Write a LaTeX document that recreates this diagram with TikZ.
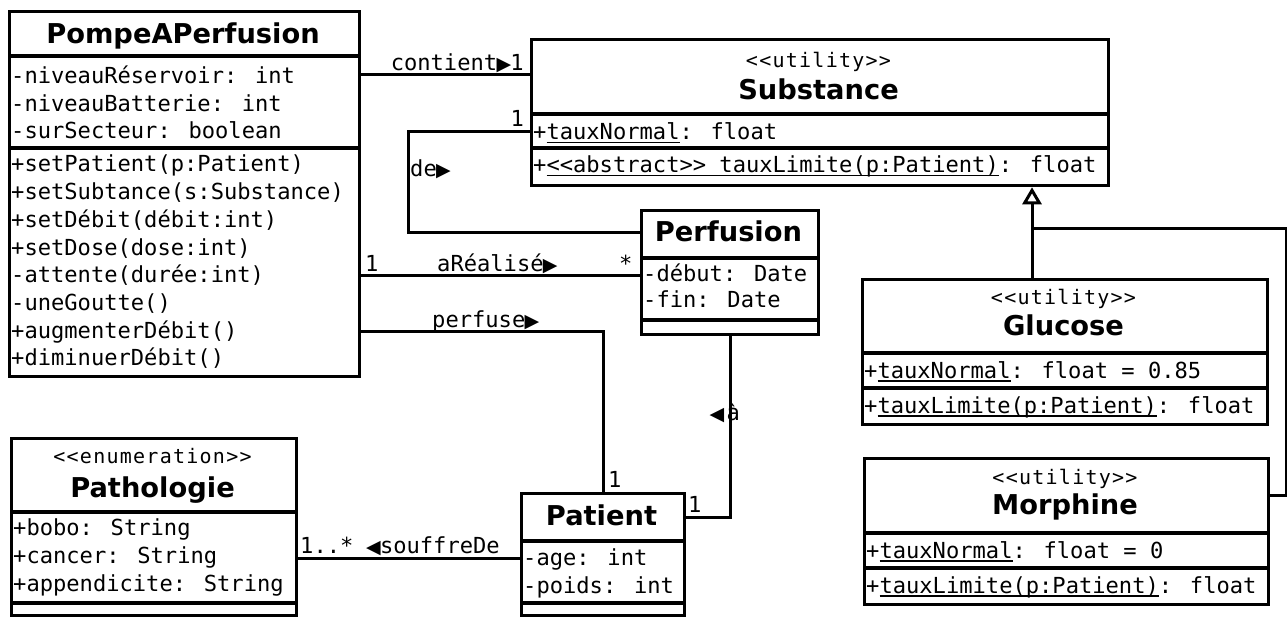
\documentclass[tikz,border=0pt]{standalone}
\usepackage{fontspec}
\setmainfont{DejaVu Sans}
\newfontfamily\monof[Ligatures=TeXOff]{DejaVu Sans Mono}
\newfontfamily\symf{DejaVu Sans}
\usetikzlibrary{arrows.meta}
\newsavebox\ulbox
\newcommand\ulx[1]{\sbox\ulbox{#1}\rlap{\rule[-3.5pt]{\wd\ulbox}{1.4pt}}\usebox\ulbox}
% stereotype: every character in a mono cell of the body width
\def\spc#1{\spcloop#1\relax}
\def\spcloop#1{\ifx\relax#1\else\makebox[13.3pt]{#1}\expandafter\spcloop\fi}
\newcommand\rtri{\makebox[13.3pt]{\symf\fontsize{19}{19}\selectfont ▶}}
\newcommand\ltri{\makebox[13.3pt]{\symf\fontsize{19}{19}\selectfont ◀}}
\tikzset{
  cls/.style={draw, line width=3.3pt, inner sep=0pt, anchor=north west},
  divl/.style={line width=3.3pt},
  conn/.style={line width=3pt},
  mem/.style={inner sep=0pt, anchor=base west, font=\monof\fontsize{22.1}{26}\selectfont},
  ttl/.style={inner sep=0pt, anchor=base, font=\bfseries\fontsize{27.3}{30}\selectfont},
  ster/.style={inner sep=0pt, anchor=base, font=\monof\fontsize{20}{20}\selectfont},
}
\begin{document}
\begin{tikzpicture}[x=1pt,y=-1pt]
\useasboundingbox (0,0) rectangle (1287,617);
% ---------- PompeAPerfusion
\node[cls, minimum width=350pt, minimum height=365pt] (pompe) at (8,10) {};
\draw[divl] (pompe.west |- 0,56) -- (pompe.east |- 0,56);
\draw[divl] (pompe.west |- 0,148) -- (pompe.east |- 0,148);
\node[ttl] (pompeT) at (183,44) {PompeAPerfusion};
\node[mem] (pa1) at (11,84) {-niveauRéservoir: int};
\node[mem] (pa2) at (11,111.5) {-niveauBatterie: int};
\node[mem] (pa3) at (11,139) {-surSecteur: boolean};
\node[mem] (pm1) at (11,172) {+setPatient(p:Patient)};
\node[mem] (pm2) at (11,199.7) {+setSubtance(s:Substance)};
\node[mem] (pm3) at (11,227.4) {+setDébit(débit:int)};
\node[mem] (pm4) at (11,255.1) {+setDose(dose:int)};
\node[mem] (pm5) at (11,282.8) {-attente(durée:int)};
\node[mem] (pm6) at (11,310.5) {-uneGoutte()};
\node[mem] (pm7) at (11,338.2) {+augmenterDébit()};
\node[mem] (pm8) at (11,365.9) {+diminuerDébit()};
% ---------- Substance
\node[cls, minimum width=577pt, minimum height=146pt] (subst) at (530,38) {};
\draw[divl] (subst.west |- 0,114) -- (subst.east |- 0,114);
\draw[divl] (subst.west |- 0,148) -- (subst.east |- 0,148);
\node[ster] (substS) at (818.5,67.5) {\spc{<<utility>>}};
\node[ttl] (substT) at (818.5,100) {Substance};
\node[mem] (sa1) at (533,140) {+\ulx{tauxNormal}: float};
\node[mem] (sm1) at (533,173) {+\ulx{<<abstract>> tauxLimite(p:Patient)}: float};
% ---------- Perfusion
\node[cls, minimum width=177pt, minimum height=124pt] (perf) at (640,209) {};
\draw[divl] (perf.west |- 0,258) -- (perf.east |- 0,258);
\draw[divl] (perf.west |- 0,320) -- (perf.east |- 0,320);
\node[ttl] (perfT) at (728.5,241.7) {Perfusion};
\node[mem] (fa1) at (643,282) {-début: Date};
\node[mem] (fa2) at (643,308) {-fin: Date};
% ---------- Patient
\node[cls, minimum width=163pt, minimum height=122pt] (patient) at (520,492) {};
\draw[divl] (patient.west |- 0,541) -- (patient.east |- 0,541);
\draw[divl] (patient.west |- 0,603) -- (patient.east |- 0,603);
\node[ttl] (patientT) at (601.5,525) {Patient};
\node[mem] (ta1) at (523,565) {-age: int};
\node[mem] (ta2) at (523,593) {-poids: int};
% ---------- Pathologie
\node[cls, minimum width=285pt, minimum height=177pt] (patho) at (10,437) {};
\draw[divl] (patho.west |- 0,512) -- (patho.east |- 0,512);
\draw[divl] (patho.west |- 0,603) -- (patho.east |- 0,603);
\node[ster] (pathoS) at (152.5,463) {\spc{<<enumeration>>}};
\node[ttl] (pathoT) at (152.5,497) {Pathologie};
\node[mem] (ha1) at (13,535) {+bobo: String};
\node[mem] (ha2) at (13,563) {+cancer: String};
\node[mem] (ha3) at (13,591) {+appendicite: String};
% ---------- Glucose
\node[cls, minimum width=405pt, minimum height=145pt] (glucose) at (861,278) {};
\draw[divl] (glucose.west |- 0,353) -- (glucose.east |- 0,353);
\draw[divl] (glucose.west |- 0,388) -- (glucose.east |- 0,388);
\node[ster] (glucoseS) at (1063.5,305) {\spc{<<utility>>}};
\node[ttl] (glucoseT) at (1063.5,335) {Glucose};
\node[mem] (ga1) at (864,378) {+\ulx{tauxNormal}: float = 0.85};
\node[mem] (gm1) at (864,413) {+\ulx{tauxLimite(p:Patient)}: float};
% ---------- Morphine
\node[cls, minimum width=404pt, minimum height=146pt] (morph) at (863,457) {};
\draw[divl] (morph.west |- 0,533) -- (morph.east |- 0,533);
\draw[divl] (morph.west |- 0,568) -- (morph.east |- 0,568);
\node[ster] (morphS) at (1065,484) {\spc{<<utility>>}};
\node[ttl] (morphT) at (1065,514) {Morphine};
\node[mem] (ma1) at (866,558) {+\ulx{tauxNormal}: float = 0};
\node[mem] (mm1) at (866,593) {+\ulx{tauxLimite(p:Patient)}: float};
% ---------- connectors
\coordinate (debend) at (408,233);
\coordinate (genx) at (1032,229);
\coordinate (genr) at (1286,229);
\draw[conn] (pompe.east |- 0,75) -- (subst.west |- 0,75);
\draw[conn] (subst.west |- 0,132) -| (debend) -- (perf.west |- debend);
\draw[conn] (pompe.east |- 0,276) -- (perf.west |- 0,276);
\draw[conn] (pompe.east |- 0,332) -| (patient.north);
\draw[conn] (perf.south) |- (patient.east |- 0,517);
\draw[conn] (patho.east |- 0,558) -- (patient.west |- 0,558);
\draw[conn, -{Triangle[open, length=17pt, width=19pt]}] (genx |- glucose.north) -- (genx |- subst.south);
\draw[conn] (morph.east |- 0,495) -| (genr) -- (genx);
% ---------- connector labels
\node[mem, anchor=base east] (lcont) at (524,71) {contient\rtri 1};
\node[mem, anchor=base east] (lde1) at (524,127) {1};
\node[mem] (lde) at (410,177) {de\rtri};
\node[mem] (lar1) at (365,272) {1};
\node[mem] (lar) at (437,272) {aRéalisé\rtri};
\node[mem] (lar2) at (619,272) {*};
\node[mem] (lpe) at (432,327) {perfuse\rtri};
\node[mem] (lpe1) at (608,487) {1};
\node[mem] (la) at (710,420) {\ltri\hspace{3pt}à};
\node[mem] (la1) at (688,512) {1};
\node[mem] (lso) at (300,553) {1..* \ltri souffreDe};
\end{tikzpicture}
\end{document}
